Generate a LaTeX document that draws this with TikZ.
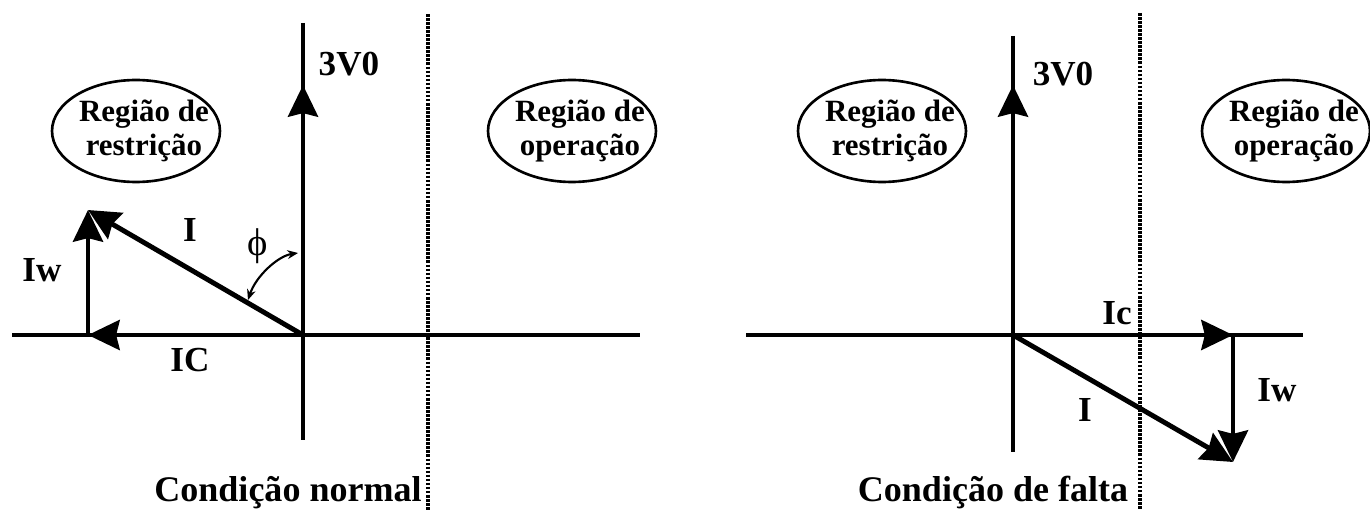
\documentclass[tikz,border=0pt]{standalone}
\usepackage{fontspec}
\setmainfont{Liberation Serif}
\usetikzlibrary{arrows.meta,shapes.geometric}
\begin{document}
\begin{tikzpicture}
[x=0.02cm, y=-0.02cm,
  axisline/.style={line width=2pt},
  phasor/.style={line width=2.8pt,-{Stealth[length=18pt,width=17pt,inset=2pt]}},
  anglearrow/.style={line width=1.2pt,{Stealth[length=6pt,width=5pt]}-{Stealth[length=6pt,width=5pt]}},
  borderline/.style={line width=1.8pt,dash pattern=on 1.5pt off 0.8pt},
  regiondecorate/.style={shape=ellipse,draw,line width=1.5pt,minimum width=3.36cm,
    minimum height=2.04cm,inner sep=-8pt,align=center,
    font=\fontsize{17.6}{19.3}\selectfont\bfseries},
  labeldecorate/.style={font=\fontsize{20}{22}\selectfont\bfseries,inner sep=0pt},
  titledecorate/.style={font=\fontsize{20.5}{23}\selectfont\bfseries,inner sep=0pt}]
\useasboundingbox (0,0) rectangle (1370,510);
%% points of both diagrams
\foreach \pointname/\x/\y in {oa/303/335, ta/303/23, ba/303/440, la/12/335,
  ra/640/335, va/303/85, pa/88/210, qa/88/335, da/428/14, ea/428/510,
  fa/298/253, ga/248/300, ob/1013/335, tb/1013/36, bb/1013/452,
  lb/746/335, rb/1303/335, vb/1013/85, pb/1233/462, qb/1233/335,
  db/1140/13, eb/1140/510}
{
  \coordinate (\pointname) at (\x,\y);
}
%% axes and limits
\foreach \side in {a,b}
{
  \draw[axisline] (l\side) -- (r\side);
  \draw[axisline] (t\side) -- (b\side);
  \draw[borderline] (d\side) -- (e\side);
}
%% phasors
\path
\foreach \startpoint/\endpoint in {oa/va, oa/qa, qa/pa, oa/pa,
  ob/vb, ob/qb, qb/pb, ob/pb}
{
  (\startpoint) edge[phasor] (\endpoint)
};
\draw[anglearrow] (fa) .. controls (278,256) and (256,276) .. (ga);
%% regions
\foreach \nodename/\x/\y/\regiontext in {resta/136/131/restrição,
  opera/572/131/operação, restb/882/131/restrição, operb/1286/131/operação}
{
  \node (\nodename) at (\x,\y) [regiondecorate]
    {\hspace*{9pt}Região de\\\hspace*{9pt}\regiontext};
}
%% labels
\foreach \nodename/\x/\y/\labeltext in {vlaba/349/64/3V0, wlaba/42/270/Iw,
  ilaba/190/230/I, clab/190/360/IC, vlabb/1063/74/3V0, clabb/1117/313/Ic,
  wlabb/1277/390/Iw, ilabb/1085/410/I}
{
  \node (\nodename) at (\x,\y) [labeldecorate] {\labeltext};
}
\node (philab) at (258,246) [font=\fontsize{22}{24}\selectfont,inner sep=0pt] {ϕ};
\node (normal) at (288,493) [titledecorate] {Condição normal};
\node (falta) at (993,493) [titledecorate] {Condição de falta};
\end{tikzpicture}
\end{document}
